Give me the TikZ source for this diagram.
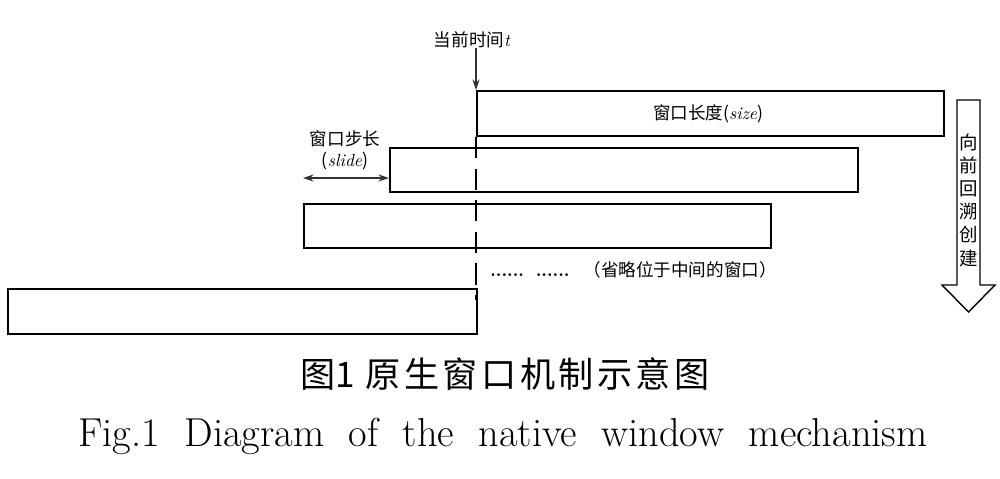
\documentclass[tikz,border=0pt]{standalone}
\usepackage{fontspec}
\newfontfamily\cjk{Noto Sans CJK SC}
\usetikzlibrary{arrows.meta}
\newcommand{\lit}[1]{{\rmfamily\itshape #1}}
\tikzset{
  win/.style={draw=black, line width=1.1pt},
  lbl/.style={font=\cjk\fontsize{10pt}{12pt}\selectfont, inner sep=0pt},
  arr/.style={-{Stealth[length=6pt,width=4pt]}, line width=0.8pt, draw=black!80},
}
\begin{document}
\begin{tikzpicture}[x=0.02cm,y=-0.02cm]
\useasboundingbox (0,0) rectangle (1000,478);
% windows
\node[win, minimum width=467*0.02cm, minimum height=45*0.02cm, inner sep=0pt, anchor=north west] (w1) at (476,90) {};
\node[win, minimum width=468*0.02cm, minimum height=44*0.02cm, inner sep=0pt, anchor=north west] (w2) at (389,147) {};
\node[win, minimum width=467*0.02cm, minimum height=44*0.02cm, inner sep=0pt, anchor=north west] (w3) at (303,203) {};
\node[win, minimum width=469*0.02cm, minimum height=45*0.02cm, inner sep=0pt, anchor=north west] (w4) at (7,288) {};
% current time
\node[lbl] (t) at (472,40) {当前时间\lit{t}};
\draw[arr] (t.south -| w1.north west) -- (w1.north west);
\coordinate (dend) at (476,300);
\draw[dashed, dash pattern=on 12pt off 6pt, line width=1pt] (w1.south west) -- (dend);
% size label
\node[lbl] (size) at (708,114) {窗口长度(\lit{size})};
% slide
\node[lbl] (sl1) at (345,139) {窗口步长};
\node[lbl] (sl2) at (345,161) {(\lit{slide})};
\coordinate (sa) at (303,178);
\draw[{Stealth[length=6pt,width=4pt]}-{Stealth[length=6pt,width=4pt]}, line width=0.8pt, draw=black!80] (sa) -- (sa -| w2.west);
% omitted
\node[lbl, anchor=west] (om) at (490,270) {{\rmfamily\bfseries\fontsize{10pt}{10pt}\selectfont ...... \,......}\hspace{8pt}（省略位于中间的窗口）};
% big arrow
\draw[line width=0.8pt, fill=white] (957,100) -- (980,100) -- (980,285) -- (995,285) -- (968.5,312) -- (942,285) -- (957,285) -- cycle;
\node[lbl, align=center, font=\cjk\fontsize{10.5pt}{13.2pt}\selectfont] (va) at (968.5,200) {向\\前\\回\\溯\\创\\建};
% captions
\node[inner sep=0pt, font=\cjk\fontsize{20pt}{24pt}\selectfont] (c1) at (505,374) {图1\hspace{0.3em}原\hspace{0.1em}生\hspace{0.1em}窗\hspace{0.1em}口\hspace{0.1em}机\hspace{0.1em}制\hspace{0.1em}示\hspace{0.1em}意\hspace{0.1em}图};
\node[inner sep=0pt, font=\fontsize{23pt}{28pt}\selectfont] (c2) at (503,436) {Fig.1\ \ Diagram\ \ of\ \ the\ \ native\ \ window\ \ mechanism};
\end{tikzpicture}
\end{document}
